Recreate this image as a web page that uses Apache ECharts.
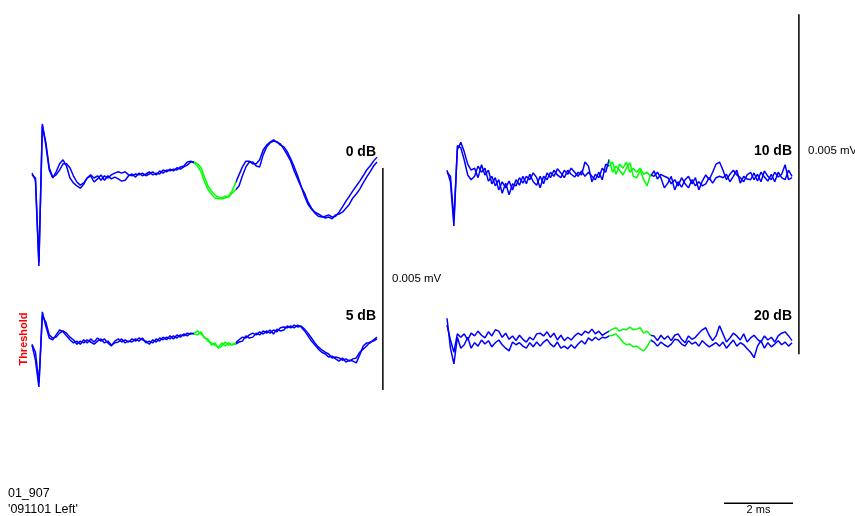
<!DOCTYPE html>
<html>
<head>
<meta charset="utf-8">
<script src="https://cdn.jsdelivr.net/npm/echarts@6/dist/echarts.min.js"></script>
<style>html,body{margin:0;padding:0;background:#fff}#c{width:855px;height:516px}</style>
</head>
<body>
<div id="c"></div>
<script>
// Sample times (ms), 0.1 ms step over 10 ms
const times = [];
for (let i = 0; i <= 100; i++) times.push(Math.round(i) / 10);

// Levels and amplitude (µV) traces, two repeats per level
const levels = ['0 dB', '5 dB', '10 dB', '20 dB'];
const thresholdLabel = 'Threshold';
const scaleLabelV = '0.005 mV';
const scaleLabelT = '2 ms';
const subjectId = '01_907';
const sessionLabel = "'091101 Left'";
const windowStart = 4.7, windowEnd = 5.9; // highlighted (ms)

const db0_a = [0.11,-0.05,-1.98,1.22,0.74,0.18,0,0.14,0.32,0.41,0.27,0,-0.11,-0.18,-0.23,-0.14,0,0.07,0,0.05,-0.05,0.05,0,0.07,0.11,0.14,0.11,0.14,0.07,0.05,0.09,0.07,0.11,0.05,0.09,0.14,0.07,0.16,0.11,0.18,0.16,0.20,0.18,0.25,0.27,0.36,0.38,0.34,0.27,0.14,-0.09,-0.25,-0.36,-0.45,-0.47,-0.47,-0.45,-0.41,-0.29,-0.11,0.07,0.25,0.38,0.38,0.32,0.32,0.41,0.63,0.74,0.81,0.86,0.81,0.74,0.70,0.59,0.43,0.25,0.05,-0.18,-0.41,-0.59,-0.70,-0.79,-0.86,-0.88,-0.86,-0.83,-0.88,-0.86,-0.77,-0.65,-0.52,-0.41,-0.29,-0.18,-0.07,0.05,0.18,0.27,0.38,0.47];
const db0_b = [0.07,0,-1.89,1.17,0.81,0.23,0.02,0.07,0.18,0.32,0.32,0.23,0.05,-0.09,-0.16,-0.11,0,0.05,-0.09,-0.02,0.07,-0.05,0.05,-0.02,0.02,-0.02,-0.07,-0.05,0.05,0.09,0.02,0.11,0.05,0.09,0.14,0.07,0.11,0.09,0.18,0.14,0.20,0.16,0.23,0.20,0.25,0.29,0.36,0.36,0.32,0.23,0.02,-0.18,-0.29,-0.38,-0.43,-0.45,-0.41,-0.43,-0.34,-0.27,-0.18,0.05,0.25,0.36,0.36,0.27,0.25,0.52,0.70,0.79,0.83,0.81,0.77,0.65,0.52,0.38,0.16,-0.02,-0.20,-0.34,-0.54,-0.68,-0.77,-0.81,-0.86,-0.90,-0.88,-0.92,-0.83,-0.81,-0.77,-0.68,-0.59,-0.45,-0.36,-0.25,-0.11,0.02,0.14,0.27,0.36];
const db5_a = [-0.07,-0.41,-1.01,0.68,0.36,0.09,0.05,0.16,0.27,0.23,0.14,0.05,-0.02,0.02,-0.05,0.05,-0.02,0.07,0,0.09,0.02,0.07,-0.02,-0.09,0.02,0.07,0,0.05,0,0.07,0.02,0.09,0.05,0.02,-0.05,0.05,0,0.09,0.05,0.11,0.07,0.14,0.09,0.16,0.14,0.20,0.18,0.20,0.25,0.18,0.11,0.02,-0.02,-0.07,-0.11,-0.02,-0.09,-0.02,-0.07,-0.02,0.05,0.11,0.09,0.16,0.20,0.16,0.23,0.18,0.25,0.20,0.27,0.23,0.32,0.34,0.32,0.36,0.32,0.38,0.34,0.25,0.14,0.02,-0.07,-0.16,-0.23,-0.27,-0.34,-0.32,-0.38,-0.43,-0.36,-0.45,-0.41,-0.43,-0.47,-0.29,-0.09,-0.02,-0.02,0.05,0.11];
const db5_b = [-0.05,-0.23,-0.92,0.59,0.45,0.16,0.09,0.11,0.20,0.25,0.20,0.11,0.05,-0.05,0.02,-0.02,0.05,0,-0.05,0.02,0.07,-0.02,0.02,-0.07,-0.02,0,0.07,-0.02,0.02,0,0.07,0.02,0.09,-0.02,0.02,-0.02,0.07,0.02,0.11,0.05,0.14,0.07,0.16,0.11,0.18,0.14,0.20,0.18,0.16,0.23,0.09,0.07,-0.07,-0.02,-0.14,-0.09,0,-0.07,-0.05,-0.05,0,0.02,0.14,0.09,0.11,0.20,0.16,0.25,0.20,0.27,0.18,0.29,0.25,0.27,0.36,0.32,0.38,0.34,0.36,0.29,0.20,0.09,-0.02,-0.11,-0.18,-0.23,-0.27,-0.36,-0.34,-0.36,-0.41,-0.38,-0.43,-0.38,-0.36,-0.23,-0.16,-0.09,0,0.02,0.07];
const db10_a = [0.10,-0.07,-0.72,0.46,0.43,0.25,0.03,-0.04,0.01,0.16,0.07,0.13,-0.06,0.01,-0.13,-0.04,-0.24,-0.09,-0.26,-0.10,-0.13,-0.01,-0.09,0.01,-0.04,0.06,-0.01,-0.16,0.01,-0.04,0.07,0.01,0.12,0.06,-0.01,0.10,0.04,0,0.07,0.03,0.22,0.16,-0.07,0.04,-0.01,0.13,0.07,0.26,0.07,0.16,0.10,0.03,0.13,0.21,0.01,-0.01,0.10,-0.04,-0.13,0.04,0.01,0.07,-0.01,-0.16,-0.09,0.01,-0.19,-0.07,-0.15,-0.04,0.01,-0.10,-0.01,-0.19,-0.06,0.03,-0.04,0.07,0.19,0.22,0.10,-0.04,0.04,0.10,0.03,-0.01,-0.07,0.03,0.07,-0.04,0.04,-0.07,0.09,0.01,-0.04,0.07,0,0.04,0.18,-0.04,-0.01];
const db10_b = [0.07,0.01,-0.63,0.40,0.51,0.37,0.19,0.10,0.13,-0.01,0.18,0.03,0.10,-0.10,-0.01,-0.19,-0.07,-0.16,-0.06,-0.19,-0.04,-0.12,0.01,-0.10,0.04,-0.07,-0.12,0.01,-0.10,0.06,-0.01,0.10,0.03,-0.01,0.10,0.04,0.13,0.07,0.01,0.09,0.01,0.07,0.01,-0.04,0.07,-0.04,0.19,0.16,0.22,0.04,0.19,0.13,0.22,0.07,0.13,0.07,0.13,0.04,0.07,0.01,0.09,-0.03,0.04,0.01,-0.01,-0.10,-0.04,-0.13,-0.01,-0.10,-0.16,-0.04,-0.13,-0.07,-0.13,-0.10,-0.01,-0.09,-0.01,0.01,-0.01,0.04,-0.07,0.01,0.10,-0.09,0.01,-0.03,-0.04,0.06,-0.06,0.07,0,-0.06,0.04,-0.07,0.07,-0.01,-0.04,0.10,0.01];
const db20_a = [0.22,0,-0.18,0.09,0.04,0.09,0,0.10,0.06,0.13,0.07,0.03,0.12,0.06,0.15,0.13,0.04,0.10,0.01,0.06,-0.01,0.07,0.01,-0.03,0.04,0,0.09,0.10,0.06,0.12,0.04,0.10,0,0.07,-0.01,0.04,0,0.06,0.10,0.07,0.13,0.10,0.16,0.09,0.13,0.07,0.10,0.13,0.16,0.18,0.13,0.16,0.15,0.19,0.15,0.16,0.18,0.10,0.13,0.07,0.06,-0.01,0.07,0.01,0.06,-0.01,0.07,0.09,0.01,-0.04,0.06,0.01,0.04,0.10,0.15,0.18,0.07,-0.01,0.06,0.21,0.09,-0.03,0.03,0.10,0.06,0,0.09,-0.03,0.03,0.07,0.01,-0.03,0.06,0,0.04,-0.03,0.06,0.10,0.12,0.06,-0.01];
const db20_b = [0.32,-0.12,-0.35,0.04,-0.12,-0.07,0.04,-0.12,-0.04,-0.09,0,-0.06,-0.01,-0.10,-0.04,0,-0.07,-0.12,-0.16,-0.03,-0.07,-0.04,-0.09,-0.12,-0.04,-0.10,-0.03,-0.09,-0.03,0.01,-0.06,-0.10,-0.03,-0.12,-0.09,-0.13,-0.07,-0.12,-0.06,-0.01,-0.06,0.03,-0.01,0.04,0,0.04,0.03,0.06,0.07,0.09,0.03,-0.03,-0.07,-0.06,-0.10,-0.09,-0.13,-0.16,-0.10,0,-0.03,-0.09,-0.03,-0.07,-0.10,-0.06,0.01,0,-0.06,-0.09,-0.01,-0.06,-0.03,-0.09,-0.01,-0.06,-0.10,-0.07,-0.04,-0.09,-0.03,-0.12,-0.06,0,-0.09,-0.04,-0.07,-0.13,-0.18,-0.26,-0.09,-0.01,-0.12,-0.04,-0.10,-0.06,-0.01,-0.07,-0.03,-0.09,-0.04];

const traces = [[db0_a, db0_b], [db5_a, db5_b], [db10_a, db10_b], [db20_a, db20_b]];

const FONT = "'Liberation Sans', Arial, sans-serif";
const grids = [
  {left: 32, width: 345, top: 89.2, height: 222},
  {left: 32, width: 345, top: 253.2, height: 222},
  {left: 447, width: 345, top: 75, height: 204},
  {left: 447, width: 345, top: 238, height: 204}
];
const yRanges = [[-3, 2], [-3, 2], [-1.5, 1.5], [-1.5, 1.5]];

const series = [];
traces.forEach((pair, g) => {
  pair.forEach(vals => {
    series.push({
      type: 'line', xAxisIndex: g, yAxisIndex: g,
      data: times.map((t, i) => [t, vals[i]]),
      showSymbol: false, symbol: 'none', lineStyle: {width: 1.5},
      clip: false, silent: true
    });
  });
});

const chart = echarts.init(document.getElementById('c'), null, {renderer: 'canvas'});
chart.setOption({
  animation: false,
  backgroundColor: '#fff',
  grid: grids.map(g => Object.assign({containLabel: false}, g)),
  xAxis: grids.map((g, i) => ({gridIndex: i, type: 'value', min: 0, max: 10, show: false})),
  yAxis: grids.map((g, i) => ({gridIndex: i, type: 'value', min: yRanges[i][0], max: yRanges[i][1], show: false})),
  visualMap: {
    type: 'piecewise', show: false, dimension: 0,
    seriesIndex: series.map((s, i) => i),
    pieces: [{gte: windowStart, lte: windowEnd, color: '#00ff00'}],
    outOfRange: {color: '#0000ff'}
  },
  series: series
});

// Scale bars computed from axis scales
const scaleV = 5;   // µV = 0.005 mV
const scaleT = 2;   // ms
const pL0 = chart.convertToPixel({gridIndex: 1}, [10.17, -1.08]);
const pL1 = chart.convertToPixel({gridIndex: 1}, [10.17, -1.08 + scaleV]);
const pR0 = chart.convertToPixel({gridIndex: 3}, [10.2, -0.21]);
const pR1 = chart.convertToPixel({gridIndex: 3}, [10.2, -0.21 + scaleV]);
const pT0 = chart.convertToPixel({gridIndex: 3}, [8.03, -2.4]);
const pT1 = chart.convertToPixel({gridIndex: 3}, [8.03 + scaleT, -2.4]);

function lbl(x, y, text, opt) {
  return {type: 'text', x: x, y: y, silent: true,
    style: Object.assign({text: text, fill: '#000', font: '12px ' + FONT, textAlign: 'left', textVerticalAlign: 'middle'}, opt || {})};
}
const dbPos = [[376, 152], [376, 316], [792, 151.5], [792, 316]];
const graphic = [
  {type: 'line', silent: true, shape: {x1: pL0[0], y1: pL0[1], x2: pL1[0], y2: pL1[1]}, style: {stroke: '#000', lineWidth: 1.5}},
  {type: 'line', silent: true, shape: {x1: pR0[0], y1: pR0[1], x2: pR1[0], y2: pR1[1]}, style: {stroke: '#000', lineWidth: 1.5}},
  {type: 'line', silent: true, shape: {x1: pT0[0], y1: pT0[1], x2: pT1[0], y2: pT1[1]}, style: {stroke: '#000', lineWidth: 1.5}},
  lbl(392, 278.5, scaleLabelV, {font: '11.5px ' + FONT}),
  lbl(808, 150.5, scaleLabelV, {font: '11.5px ' + FONT}),
  lbl((pT0[0] + pT1[0]) / 2, 510, scaleLabelT, {font: '11px ' + FONT, textAlign: 'center'}),
  lbl(8, 494, subjectId, {font: '12.5px ' + FONT}),
  lbl(8, 510, sessionLabel, {font: '12.5px ' + FONT}),
  {type: 'text', x: 24, y: 339, rotation: Math.PI / 2, silent: true,
    style: {text: thresholdLabel, fill: '#ff0000', font: 'bold 11px ' + FONT, textAlign: 'center', textVerticalAlign: 'middle'}}
];
levels.forEach((l, i) => {
  graphic.push(lbl(dbPos[i][0], dbPos[i][1], l, {font: 'bold 14px ' + FONT, textAlign: 'right'}));
});
chart.setOption({graphic: graphic});
</script>
</body>
</html>
